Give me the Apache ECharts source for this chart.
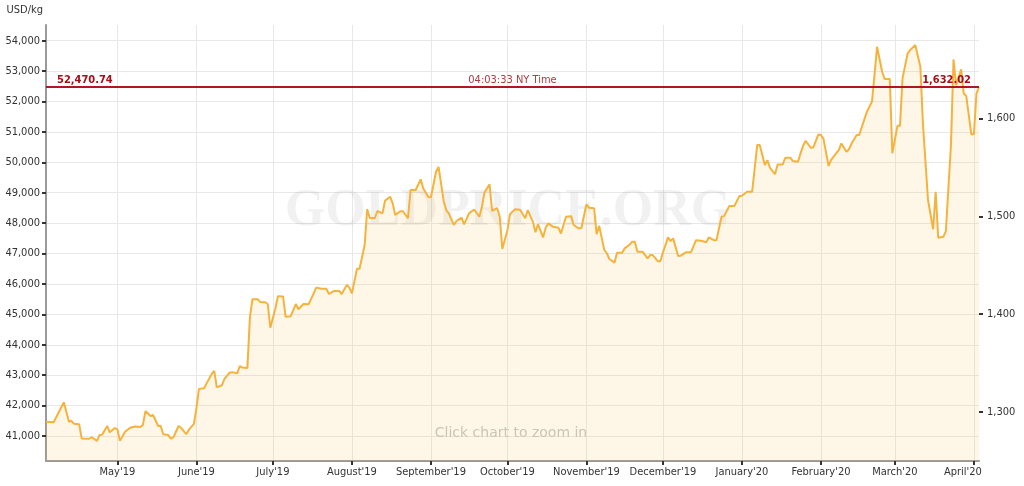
<!DOCTYPE html>
<html><head><meta charset="utf-8">
<script src="https://cdn.jsdelivr.net/npm/echarts@6/dist/echarts.min.js"></script>
<style>html,body{margin:0;padding:0;background:#fff}#c{width:1024px;height:486px}</style>
</head><body><div id="c"></div>
<script>
const dates = [
'2019-04-03','2019-04-06','2019-04-10','2019-04-12','2019-04-13','2019-04-14','2019-04-16','2019-04-17','2019-04-20','2019-04-21',
'2019-04-23','2019-04-24','2019-04-25','2019-04-27','2019-04-28','2019-04-30','2019-05-01','2019-05-02','2019-05-04','2019-05-06',
'2019-05-08','2019-05-10','2019-05-11','2019-05-12','2019-05-14','2019-05-15','2019-05-17','2019-05-18','2019-05-19','2019-05-21',
'2019-05-22','2019-05-23','2019-05-25','2019-05-26','2019-05-28','2019-05-29','2019-05-31','2019-06-01','2019-06-02','2019-06-04',
'2019-06-05','2019-06-07','2019-06-08','2019-06-09','2019-06-11','2019-06-12','2019-06-14','2019-06-15','2019-06-17','2019-06-18',
'2019-06-19','2019-06-21','2019-06-22','2019-06-23','2019-06-25','2019-06-26','2019-06-28','2019-06-29','2019-06-30','2019-07-02',
'2019-07-03','2019-07-05','2019-07-06','2019-07-08','2019-07-10','2019-07-11','2019-07-13','2019-07-15','2019-07-17','2019-07-18',
'2019-07-20','2019-07-22','2019-07-23','2019-07-25','2019-07-27','2019-07-28','2019-07-30','2019-07-31','2019-08-01','2019-08-03',
'2019-08-04','2019-08-06','2019-08-07','2019-08-08','2019-08-10','2019-08-11','2019-08-13','2019-08-14','2019-08-16','2019-08-17',
'2019-08-18','2019-08-20','2019-08-21','2019-08-23','2019-08-24','2019-08-26','2019-08-28','2019-08-29','2019-08-31','2019-09-01',
'2019-09-03','2019-09-04','2019-09-06','2019-09-07','2019-09-08','2019-09-10','2019-09-11','2019-09-13','2019-09-14','2019-09-16',
'2019-09-18','2019-09-20','2019-09-21','2019-09-22','2019-09-24','2019-09-25','2019-09-27','2019-09-28','2019-09-29','2019-10-01',
'2019-10-02','2019-10-04','2019-10-06','2019-10-08','2019-10-09','2019-10-11','2019-10-12','2019-10-13','2019-10-15','2019-10-16',
'2019-10-17','2019-10-19','2019-10-21','2019-10-22','2019-10-23','2019-10-24','2019-10-26','2019-10-27','2019-10-29','2019-10-30',
'2019-11-01','2019-11-02','2019-11-04','2019-11-05','2019-11-06','2019-11-08','2019-11-09','2019-11-10','2019-11-12','2019-11-13',
'2019-11-15','2019-11-16','2019-11-18','2019-11-19','2019-11-20','2019-11-21','2019-11-23','2019-11-25','2019-11-26','2019-11-27',
'2019-11-29','2019-11-30','2019-12-01','2019-12-03','2019-12-04','2019-12-05','2019-12-07','2019-12-08','2019-12-10','2019-12-12',
'2019-12-14','2019-12-16','2019-12-18','2019-12-19','2019-12-21','2019-12-22','2019-12-24','2019-12-25','2019-12-27','2019-12-29',
'2019-12-31','2020-01-01','2020-01-03','2020-01-05','2020-01-07','2020-01-08','2020-01-10','2020-01-11','2020-01-12','2020-01-14',
'2020-01-15','2020-01-17','2020-01-18','2020-01-20','2020-01-21','2020-01-23','2020-01-24','2020-01-25','2020-01-26','2020-01-28',
'2020-01-29','2020-01-31','2020-02-01','2020-02-02','2020-02-04','2020-02-05','2020-02-07','2020-02-08','2020-02-09','2020-02-11',
'2020-02-12','2020-02-13','2020-02-15','2020-02-16','2020-02-18','2020-02-19','2020-02-21','2020-02-22','2020-02-23','2020-02-25',
'2020-02-26','2020-02-28','2020-02-29','2020-03-02','2020-03-03','2020-03-04','2020-03-06','2020-03-07','2020-03-09','2020-03-11',
'2020-03-12','2020-03-14','2020-03-16','2020-03-17','2020-03-18','2020-03-20','2020-03-21','2020-03-23','2020-03-24','2020-03-25',
'2020-03-27','2020-03-28','2020-03-29','2020-03-31','2020-04-01','2020-04-02','2020-04-03'
];
const pricesKg = [
41470,41450,42110,41470,41500,41400,41390,40920,40910,40960,
40840,41030,41040,41330,41120,41260,41220,40840,41140,41270,
41310,41300,41360,41820,41660,41690,41330,41330,41060,41030,
40910,40960,41330,41270,41060,41200,41400,41910,42550,42570,
42730,43040,43140,42600,42670,42880,43080,43100,43060,43300,
43250,43240,44920,45500,45500,45410,45400,45340,44560,45200,
45600,45590,44920,44940,45340,45170,45340,45330,45690,45880,
45840,45840,45670,45770,45770,45670,45970,45880,45690,46500,
46500,47280,48460,48170,48170,48400,48320,48740,48870,48650,
48270,48390,48390,48160,49090,49090,49440,49140,48860,48850,
49690,49850,48730,48430,48320,47940,48070,48180,47960,48330,
48450,48210,48540,49010,49280,48400,48490,48210,47150,47770,
48290,48460,48440,48160,48430,48050,47700,47970,47530,47850,
47990,47880,47850,47660,47940,48210,48230,47940,47830,47830,
48620,48510,48490,47640,47910,47120,47010,46820,46700,47030,
47030,47170,47300,47390,47390,47060,47060,46840,46950,46950,
46750,46750,47030,47530,47410,47500,46920,46930,47040,47040,
47440,47420,47370,47530,47440,47440,48210,48230,48560,48560,
48890,48900,49030,49030,50570,50570,49910,50070,49820,49610,
49930,49930,50150,50150,50040,50020,50300,50540,50710,50480,
50490,50920,50900,50770,49880,50080,50300,50400,50620,50350,
50430,50620,50900,50900,51410,51660,51990,52870,53800,52980,
52740,52740,50300,51200,51200,52760,53580,53690,53860,53140,
51280,48760,47800,49030,47520,47550,47740,50570,53390,52540,
53060,52270,52180,50920,50920,52270,52470.74
];
const yTicksKg = [41000,42000,43000,44000,45000,46000,47000,48000,49000,50000,51000,52000,53000,54000];
const yTicksOz = [1300,1400,1500,1600];
const monthTicks = ['2019-05-01','2019-06-01','2019-07-01','2019-08-01','2019-09-01','2019-10-01','2019-11-01','2019-12-01','2020-01-01','2020-02-01','2020-03-01','2020-04-01'];
const monthLabels = ["May'19","June'19","July'19","August'19","September'19","October'19","November'19","December'19","January'20","February'20","March'20","April'20"];
const currentKg = 52470.74;
const currentKgLabel = '52,470.74';
const currentOzLabel = '1,632.02';
const timeLabel = '04:03:33 NY Time';
const unitLabel = 'USD/kg';
const watermark = 'GOLDPRICE.ORG';
const zoomHint = 'Click chart to zoom in';

const OZ_PER_KG = 32.1507;
const Y_MIN = 40178, Y_MAX = 54516;
const FF = '"DejaVu Sans Condensed", "Liberation Sans", Arial, sans-serif';

const ts = s => +echarts.time.parse(s);
const monthTs = monthTicks.map(ts);
const data = dates.map((d, i) => [ts(d), pricesKg[i]]);
const fmt = v => Math.round(v).toLocaleString('en-US');

const chart = echarts.init(document.getElementById('c'), null, {renderer: 'canvas'});
chart.setOption({
  animation: false,
  grid: {left: 46, right: 45, top: 25, bottom: 25, containLabel: false},
  xAxis: {
    type: 'value',
    min: ts(dates[0]), max: ts(dates[dates.length - 1]),
    axisLine: {show: true, lineStyle: {color: '#9a9a9a', width: 2}},
    axisTick: {show: true, length: 4, lineStyle: {color: '#333', width: 2}, customValues: monthTs},
    axisLabel: {
      customValues: monthTs,
      color: '#333', fontSize: 11, fontFamily: FF, margin: 6,
      formatter: v => {
        let best = -1, bd = Infinity;
        monthTs.forEach((t, i) => { const d = Math.abs(t - v); if (d < bd) { bd = d; best = i; } });
        if (bd >= 86400000) return '';
        return best === monthTs.length - 1 ? '{last|' + monthLabels[best] + '}' : monthLabels[best];
      },
      rich: {last: {color: '#333', fontSize: 11, fontFamily: FF, padding: [0, 22, 0, 0]}}
    },
    splitLine: {show: true, lineStyle: {color: '#e8e8e8', width: 1}}
  },
  yAxis: [{
    type: 'value', position: 'left', min: Y_MIN, max: Y_MAX,
    name: unitLabel, nameLocation: 'end', nameGap: 15,
    nameTextStyle: {align: 'right', verticalAlign: 'middle', color: '#333', fontSize: 11, fontFamily: FF, padding: [0, 3, 0, 0]},
    axisLine: {show: true, lineStyle: {color: '#9a9a9a', width: 2}},
    axisTick: {show: true, length: 4, lineStyle: {color: '#333', width: 2}, customValues: yTicksKg},
    axisLabel: {customValues: yTicksKg, formatter: fmt, color: '#333', fontSize: 11, fontFamily: FF, margin: 6},
    splitLine: {show: true, lineStyle: {color: '#e8e8e8', width: 1}}
  }, {
    type: 'value', position: 'right', min: Y_MIN / OZ_PER_KG, max: Y_MAX / OZ_PER_KG,
    axisLine: {show: false},
    axisTick: {show: true, length: 4, lineStyle: {color: '#333', width: 2}, customValues: yTicksOz},
    axisLabel: {customValues: yTicksOz, formatter: fmt, color: '#333', fontSize: 11, fontFamily: FF, margin: 8},
    splitLine: {show: false}
  }],
  graphic: [{
    type: 'text', x: 508, y: 212, z: 1, silent: true,
    style: {text: watermark, font: 'bold 52px "Liberation Serif", serif', fill: 'rgba(0,0,0,0.055)', align: 'center', verticalAlign: 'middle'}
  }, {
    type: 'text', x: 511, y: 433, z: 1, silent: true,
    style: {text: zoomHint, font: '14px "DejaVu Sans", sans-serif', fill: '#c6c6c6', align: 'center', verticalAlign: 'middle'}
  }],
  series: [{
    type: 'line', data: data, yAxisIndex: 0, showSymbol: false, symbol: 'none', z: 3,
    lineStyle: {color: '#F5B33C', width: 2},
    areaStyle: {color: 'rgba(246,180,60,0.18)', origin: 'start'},
    emphasis: {disabled: true},
    markLine: {
      silent: true, symbol: ['none', 'none'], animation: false,
      lineStyle: {color: '#B3121C', width: 1.5, type: 'solid'},
      emphasis: {disabled: true},
      data: [
        {yAxis: currentKg, label: {show: true, position: 'insideStartTop', formatter: currentKgLabel, color: '#A50F19', fontWeight: 'bold', fontSize: 11, fontFamily: FF, distance: [11, 2]}},
        {yAxis: currentKg, label: {show: true, position: 'insideMiddleTop', formatter: timeLabel, color: '#B03A40', fontSize: 11, fontFamily: FF, distance: 2}},
        {yAxis: currentKg, label: {show: true, position: 'insideEndTop', formatter: currentOzLabel, color: '#A50F19', fontWeight: 'bold', fontSize: 11, fontFamily: FF, distance: [8, 2]}}
      ]
    }
  }]
});
</script></body></html>
